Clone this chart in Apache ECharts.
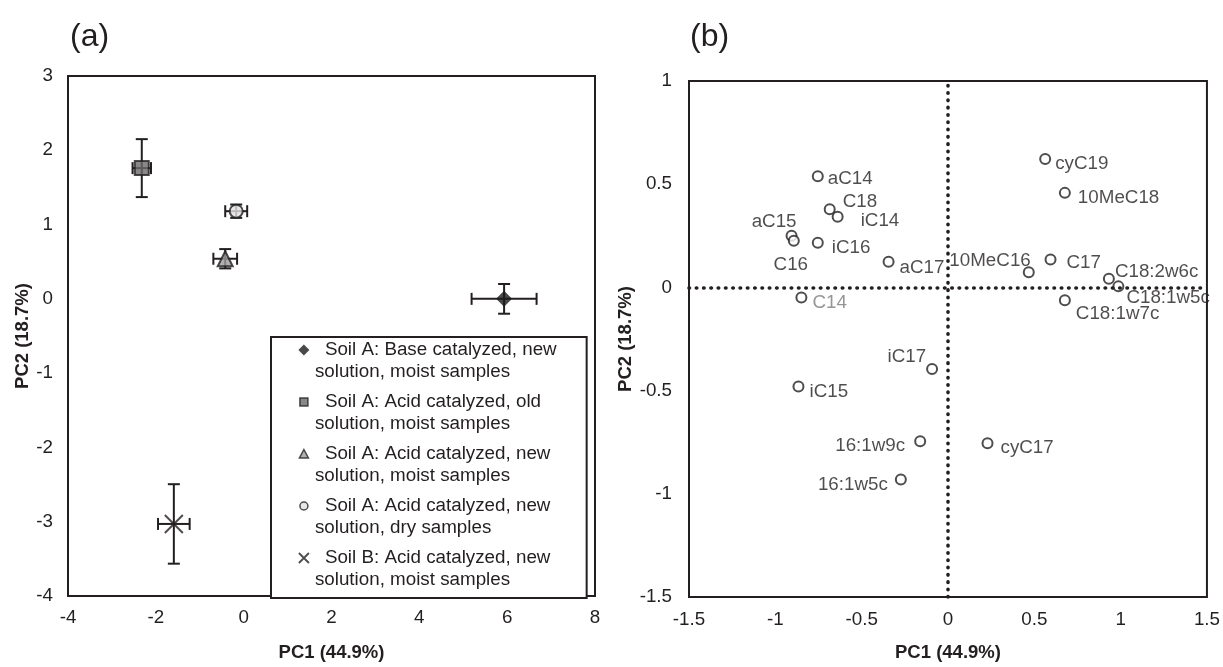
<!DOCTYPE html>
<html><head><meta charset="utf-8">
<script src="https://cdn.jsdelivr.net/npm/echarts@6/dist/echarts.min.js"></script>
<style>html,body{margin:0;padding:0;background:#fff}#c{width:1223px;height:667px}</style>
</head><body><div id="c"></div>
<script>
// ---------- Panel (a): group scores (mean ± error) ----------
const groupNames = [
  'Soil A: Base catalyzed, new solution, moist samples',
  'Soil A: Acid catalyzed, old solution, moist samples',
  'Soil A: Acid catalyzed, new solution, moist samples',
  'Soil A: Acid catalyzed, new solution, dry samples',
  'Soil B: Acid catalyzed, new solution, moist samples'
];
const legendLine1 = ['Soil A: Base catalyzed, new', 'Soil A: Acid catalyzed, old', 'Soil A: Acid catalyzed, new', 'Soil A: Acid catalyzed, new', 'Soil B: Acid catalyzed, new'];
const legendLine2 = ['solution, moist samples', 'solution, moist samples', 'solution, moist samples', 'solution, dry samples', 'solution, moist samples'];
const pc1Mean = [5.93, -2.32, -0.42, -0.17, -1.59];
const pc2Mean = [0.00, 1.76, 0.54, 1.18, -3.03];
const pc1Err  = [0.74, 0.21, 0.27, 0.25, 0.36];
const pc2Err  = [0.20, 0.39, 0.13, 0.09, 0.535];
const xTicksA = [-4, -2, 0, 2, 4, 6, 8];
const yTicksA = [-4, -3, -2, -1, 0, 1, 2, 3];

// ---------- Panel (b): FAME loadings ----------
const fameNames = ['cyC19','10MeC18','aC14','C18','iC14','aC15','C16','iC16','aC17','10MeC16','C17','C18:2w6c','C18:1w5c','C18:1w7c','C14','iC17','iC15','16:1w9c','cyC17','16:1w5c'];
const loadPC1 = [0.563, 0.677, -0.754, -0.685, -0.639, -0.906, -0.893, -0.754, -0.344, 0.468, 0.594, 0.932, 0.987, 0.677, -0.849, -0.092, -0.866, -0.161, 0.229, -0.273];
const loadPC2 = [0.622, 0.458, 0.539, 0.379, 0.342, 0.250, 0.226, 0.216, 0.124, 0.073, 0.135, 0.042, 0.005, -0.062, -0.049, -0.395, -0.480, -0.745, -0.755, -0.931];
const xTicksB = [-1.5, -1, -0.5, 0, 0.5, 1, 1.5];
const yTicksB = [-1.5, -1, -0.5, 0, 0.5, 1];

// ---------- styling (label placement of loadings: align, dx, dy in px) ----------
const labelPlace = {
  'cyC19':['left',10,5], '10MeC18':['left',13,5], 'aC14':['left',10,3], 'C18':['left',13,-7],
  'iC14':['left',23,4], 'aC15':['right',5,-14], 'C16':['center',-3,24], 'iC16':['left',14,5],
  'aC17':['left',11,6], '10MeC16':['right',2,-12], 'C17':['left',16,3], 'C18:2w6c':['left',6,-7],
  'C18:1w5c':['left',8,11], 'C18:1w7c':['left',11,14], 'C14':['left',11,5], 'iC17':['right',-6,-12],
  'iC15':['left',11,5], '16:1w9c':['right',-15,5], 'cyC17':['left',13,5], '16:1w5c':['right',-13,5]
};
const grayLabels = ['C14'];
const INK = '#231f20';
const FONT = '"Liberation Sans", Arial, Helvetica, sans-serif';
const FS = 18.8;
const markerStyles = [
  {symbol:'diamond', size:16, itemStyle:{color:'#1a1a1a', borderColor:INK, borderWidth:0}, legendIcon:'path://M0,0M12,34M6,0.5L11.5,6L6,11.5L0.5,6Z', legendBorder:0},
  {symbol:'rect', size:14, itemStyle:{color:'#6a6a6a', borderColor:INK, borderWidth:2}, legendIcon:'path://M0,0M12,34M2,2L10,2L10,10L2,10Z', legendBorder:1.5},
  {symbol:'triangle', size:15, itemStyle:{color:'#9c9c9c', borderColor:INK, borderWidth:2}, legendIcon:'path://M0,0M12,34M6,1.5L10.5,10L1.5,10Z', legendBorder:1.5},
  {symbol:'circle', size:13, itemStyle:{color:'#e2e2e2', borderColor:INK, borderWidth:2}, legendIcon:'path://M0,0M12,34M10,6A4,4 0 1 1 2,6A4,4 0 1 1 10,6Z', legendBorder:1.5},
  {symbol:'path://M0,0L10,10M10,0L0,10', size:18, itemStyle:{color:'rgba(0,0,0,0)', borderColor:INK, borderWidth:2}, legendIcon:'path://M0,0M12,34M1,1L11,11M11,1L1,11', legendBorder:1.8}
];

function rangeOf(t){ return {min:t[0], max:t[t.length-1], interval:t[1]-t[0]}; }
const rXA = rangeOf(xTicksA), rYA = rangeOf(yTicksA), rXB = rangeOf(xTicksB), rYB = rangeOf(yTicksB);

const axisCommon = {
  axisLine:{show:false}, axisTick:{show:false}, splitLine:{show:false},
  axisLabel:{fontSize:FS, color:INK, fontFamily:FONT},
  nameLocation:'middle',
  nameTextStyle:{fontSize:18.5, fontWeight:'bold', color:INK, fontFamily:FONT}
};

const errData = pc1Mean.map((x,i)=>[x, pc2Mean[i], pc1Err[i], pc2Err[i]]);

const series = [];
series.push({
  type:'custom', xAxisIndex:0, yAxisIndex:0, z:1, silent:true,
  data: errData, encode:{x:0, y:1},
  renderItem: function(params, api){
    const x = api.value(0), y = api.value(1), ex = api.value(2), ey = api.value(3);
    const l = api.coord([x-ex, y]), r = api.coord([x+ex, y]);
    const t = api.coord([x, y+ey]), b = api.coord([x, y-ey]);
    const cap = 6;
    const st = {stroke:INK, lineWidth:2, fill:null};
    const ln = (x1,y1,x2,y2)=>({type:'line', shape:{x1,y1,x2,y2}, style:st});
    return {type:'group', children:[
      ln(l[0],l[1],r[0],r[1]), ln(l[0],l[1]-cap,l[0],l[1]+cap), ln(r[0],r[1]-cap,r[0],r[1]+cap),
      ln(t[0],t[1],b[0],b[1]), ln(t[0]-cap,t[1],t[0]+cap,t[1]), ln(b[0]-cap,b[1],b[0]+cap,b[1])
    ]};
  }
});
groupNames.forEach((nm,i)=>{
  const m = markerStyles[i];
  series.push({
    type:'scatter', name:nm, xAxisIndex:0, yAxisIndex:0, z:3,
    symbol:m.symbol, symbolSize:m.size, itemStyle:m.itemStyle,
    emphasis:{disabled:true},
    data:[[pc1Mean[i], pc2Mean[i]]]
  });
});

const loadData = fameNames.map((nm,i)=>({
  name:nm, value:[loadPC1[i], loadPC2[i]],
  label:{color: grayLabels.includes(nm) ? '#7a7a7a' : INK}
}));
series.push({
  type:'scatter', name:'loadings', xAxisIndex:1, yAxisIndex:1, z:3,
  symbol:'circle', symbolSize:10,
  itemStyle:{color:'#fff', borderColor:INK, borderWidth:2},
  emphasis:{disabled:true},
  label:{show:true, formatter:'{b}', position:'inside', fontSize:FS, fontFamily:FONT, color:INK,
         textBorderWidth:0, textShadowBlur:0},
  labelLayout: function(p){
    const nm = fameNames[p.dataIndex];
    const pl = labelPlace[nm];
    const cx = p.rect.x + p.rect.width/2, cy = p.rect.y + p.rect.height/2;
    return {x: cx + pl[1], y: cy + pl[2], align: pl[0], verticalAlign:'middle', hideOverlap:false};
  },
  data: loadData,
  markLine:{
    silent:true, symbol:['none','none'], animation:false,
    label:{show:false},
    lineStyle:{color:INK, width:3.6, type:[0.5, 6.8], cap:'round'},
    data:[{xAxis:0}, {yAxis:0}]
  }
});

const option = {
  animation:false,
  textStyle:{fontFamily:FONT},
  title:[
    {text:'(a)', left:70, top:21, padding:0, textStyle:{fontSize:32, fontWeight:'normal', color:INK, fontFamily:FONT}},
    {text:'(b)', left:690, top:21, padding:0, textStyle:{fontSize:32, fontWeight:'normal', color:INK, fontFamily:FONT}}
  ],
  grid:[
    {left:68, top:76, width:527, height:528, show:true, borderColor:INK, borderWidth:2, backgroundColor:'transparent'},
    {left:689, top:81, width:519, height:524, show:true, borderColor:INK, borderWidth:2, backgroundColor:'transparent'}
  ],
  xAxis:[
    Object.assign({}, axisCommon, {type:'value', gridIndex:0, min:rXA.min, max:rXA.max, interval:rXA.interval, name:'PC1 (44.9%)', nameGap:47, axisLabel:Object.assign({}, axisCommon.axisLabel, {margin:12})}),
    Object.assign({}, axisCommon, {type:'value', gridIndex:1, min:rXB.min, max:rXB.max, interval:rXB.interval, name:'PC1 (44.9%)', nameGap:46, axisLabel:Object.assign({}, axisCommon.axisLabel, {margin:13})})
  ],
  yAxis:[
    Object.assign({}, axisCommon, {type:'value', gridIndex:0, min:rYA.min, max:rYA.max, interval:rYA.interval, name:'PC2 (18.7%)', nameGap:35, axisLabel:Object.assign({}, axisCommon.axisLabel, {margin:15})}),
    Object.assign({}, axisCommon, {type:'value', gridIndex:1, min:rYB.min, max:rYB.max, interval:rYB.interval, name:'PC2 (18.7%)', nameGap:43, axisLabel:Object.assign({}, axisCommon.axisLabel, {margin:17})})
  ],
  legend:{
    orient:'vertical', left:271, top:337, padding:[2,30,7,26], itemGap:8,
    itemWidth:12, itemHeight:34, selectedMode:false,
    borderColor:INK, borderWidth:2, backgroundColor:'#fff',
    data: groupNames.map((nm,i)=>({name:nm, icon:markerStyles[i].legendIcon,
      itemStyle:{color:markerStyles[i].itemStyle.color, borderColor:INK, borderWidth:markerStyles[i].legendBorder}})),
    formatter: function(name){
      const i = groupNames.indexOf(name);
      return '{a|' + legendLine1[i] + '}\n{b|' + legendLine2[i] + '}';
    },
    textStyle:{fontSize:FS, lineHeight:22, color:INK, fontFamily:FONT,
      rich:{a:{fontSize:FS, lineHeight:22, color:INK, fontFamily:FONT, padding:[0,0,0,10]},
            b:{fontSize:FS, lineHeight:22, color:INK, fontFamily:FONT}}}
  },
  series: series
};
const chart = echarts.init(document.getElementById('c'), null, {renderer:'canvas'});
chart.setOption(option);
</script></body></html>
